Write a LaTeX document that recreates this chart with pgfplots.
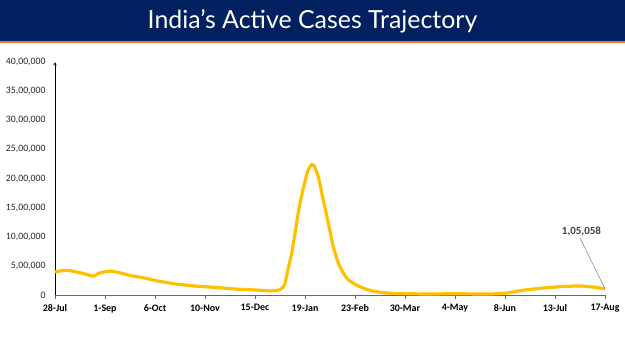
\documentclass[border=0pt]{standalone}
\usepackage{pgfplots}
\pgfplotsset{compat=1.18}
\usepackage{fontspec}
\setmainfont{Carlito}
\newfontfamily\titlefont{Lato}
\definecolor{navy}{HTML}{002060}
\definecolor{bandorange}{HTML}{E8743B}
\definecolor{gold}{HTML}{FFC000}
\begin{document}
\begin{tikzpicture}
\useasboundingbox (0,0) rectangle (625bp,351bp);
\fill[navy] (0,310bp) rectangle (625bp,351bp);
\fill[bandorange] (0,307.5bp) rectangle (625bp,310bp);
\node[text=white,font=\titlefont\fontsize{25}{28}\selectfont] at (312.5bp,330bp) {India’s Active Cases Trajectory};
\begin{axis}[
  at={(55bp,56bp)}, anchor=south west,
  scale only axis, width=550bp, height=233bp,
  xmin=0, xmax=385, ymin=0, ymax=4000000,
  scaled y ticks=false, scaled x ticks=false,
  axis x line=bottom, axis y line=left,
  x axis line style={-, draw=gray!80!black, line width=0.8pt},
  y axis line style={-stealth, black, line width=0.6pt},
  xtick={0,35,70,105,140,175,210,245,280,315,350,385},
  xticklabels={28-Jul,1-Sep,6-Oct,10-Nov,15-Dec,19-Jan,23-Feb,30-Mar,4-May,8-Jun,13-Jul,17-Aug},
  ytick={0,500000,1000000,1500000,2000000,2500000,3000000,3500000,4000000},
  yticklabels={0,{5,00,000},{10,00,000},{15,00,000},{20,00,000},{25,00,000},{30,00,000},{35,00,000},{40,00,000}},
  xtick align=outside,
  x tick style={draw=gray!80!black, line width=0.6pt},
  major tick length=4bp,
  y tick style={draw=none},
  xticklabel style={font=\bfseries\fontsize{10}{12}\selectfont, text=black, yshift=-2bp},
  yticklabel style={font=\fontsize{9.8}{11}\selectfont, text=black!85, xshift=-4bp},
  clip=false,
]
\addplot[gold, line width=3.2bp, smooth, tension=0.4] coordinates {
(0,395000) (5.6,420000) (10.5,418000) (19.6,370000) (26.6,326000) (31.5,380000)
(38.5,410000) (44,390000) (52.5,335000) (61.6,297000) (72,240000) (84,190000)
(98,155000) (112,130000) (126,103000) (140,86000) (150.5,70000) (156,80000)
(159,120000) (161,200000) (163,430000) (165.7,720000) (168,1060000) (171.5,1580000)
(175,1950000) (177.3,2150000) (179.7,2240000) (181,2230000) (182,2180000)
(184.3,2030000) (187.8,1630000) (191.3,1240000) (194.8,830000) (198.3,550000)
(201.8,380000) (205.3,260000) (211.2,170000) (215,125000) (220.5,80000)
(227.5,46000) (236.6,29000) (260.4,17000) (278.6,22000) (302.4,17000)
(315,30000) (325.5,74000) (339.5,115000) (353.5,143000) (367.5,155000)
(378,132000) (385,105058)
};
\draw[gray, line width=0.5pt] (axis cs:367.5,980000) -- (axis cs:385,105058);
\node[font=\bfseries\fontsize{11}{13}\selectfont, text=black!75] at (axis cs:368.5,1085000) {1,05,058};
\end{axis}
\end{tikzpicture}
\end{document}
